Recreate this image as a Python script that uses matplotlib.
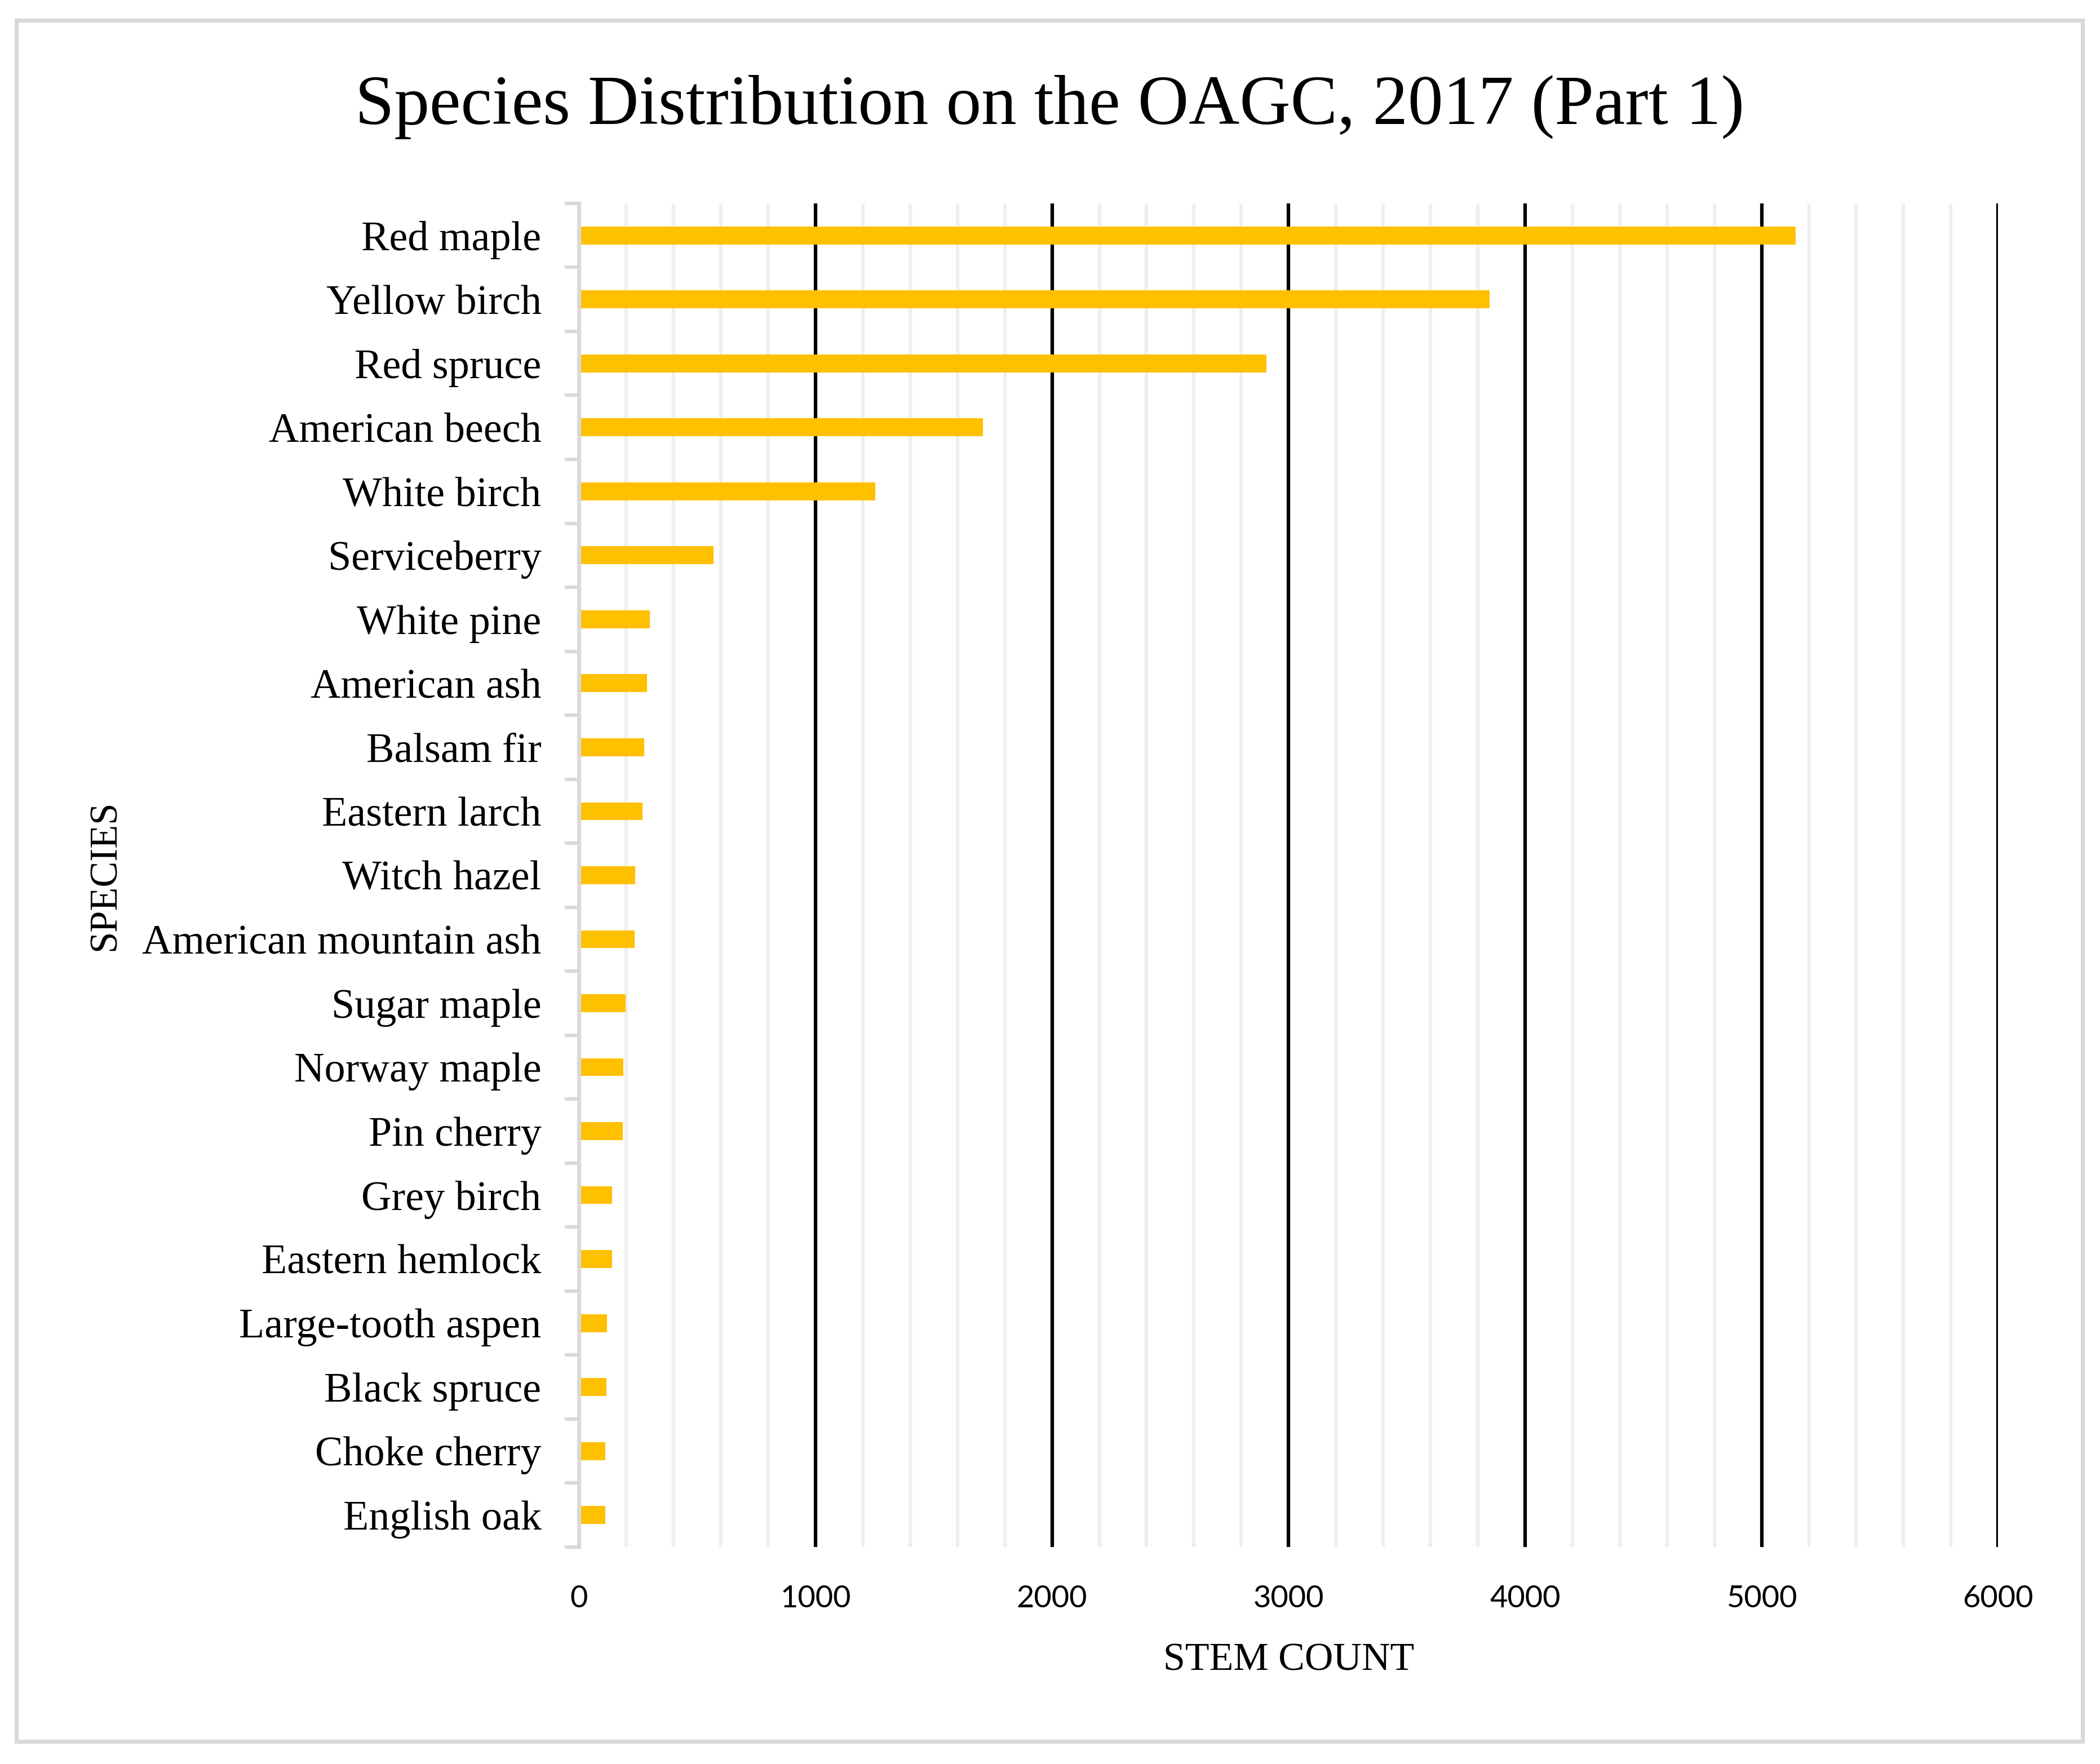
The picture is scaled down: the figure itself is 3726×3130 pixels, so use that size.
import matplotlib.pyplot as plt
from matplotlib.patches import Rectangle
from matplotlib.ticker import MultipleLocator, FixedLocator

species = ["Red maple", "Yellow birch", "Red spruce", "American beech", "White birch",
           "Serviceberry", "White pine", "American ash", "Balsam fir", "Eastern larch",
           "Witch hazel", "American mountain ash", "Sugar maple", "Norway maple",
           "Pin cherry", "Grey birch", "Eastern hemlock", "Large-tooth aspen",
           "Black spruce", "Choke cherry", "English oak"]
stem_count = [5143, 3851, 2906, 1708, 1252, 570, 299, 287, 275, 268,
              237, 235, 197, 187, 185, 140, 140, 119, 116, 112, 112]
x_ticks = [0, 1000, 2000, 3000, 4000, 5000, 6000]

serif = "Liberation Serif"
sans = "Lato"

fig = plt.figure(figsize=(3726 / 300, 3130 / 300), dpi=300)
ax = fig.add_axes([0.2757, 0.123, 0.6758, 0.7617])

n = len(species)
ypos = list(range(n))
ax.barh(ypos, stem_count, height=0.28, color="#FFC000", zorder=2)

ax.set_ylim(n - 0.5, -0.5)
ax.set_xlim(0, 6000)
ax.set_yticks(ypos)
ax.set_yticklabels(species, family=serif, fontsize=17.8)
ax.yaxis.set_minor_locator(FixedLocator([i - 0.5 for i in range(n + 1)]))
ax.tick_params(axis="y", which="major", length=0, pad=16)
ax.tick_params(axis="y", which="minor", length=6, width=1.5, color="#d9d9d9")

ax.set_xticks(x_ticks)
ax.set_xticklabels([str(v) for v in x_ticks], family=sans, fontsize=13)
ax.xaxis.set_minor_locator(MultipleLocator(200))
ax.tick_params(axis="x", which="both", length=0, pad=16)

ax.set_axisbelow(True)
ax.grid(axis="x", which="major", color="black", linewidth=1.5)
ax.grid(axis="x", which="minor", color="#efefef", linewidth=1.5)

for s in ["top", "right", "bottom"]:
    ax.spines[s].set_visible(False)
ax.spines["left"].set_color("#d9d9d9")
ax.spines["left"].set_linewidth(1.7)
ax.spines["left"].set_zorder(3)

ax.set_xlabel("STEM COUNT", family=serif, fontsize=16.8, labelpad=13)
ax.set_ylabel("SPECIES", family=serif, fontsize=16.5, labelpad=8)
fig.text(0.5, 1 - 190 / 3130, "Species Distribution on the OAGC, 2017 (Part 1)",
         family=serif, fontsize=30, ha="center", va="center")

fig.patches.append(Rectangle((29 / 3726, 1 - 3090 / 3130), (3695 - 29) / 3726, (3090 - 36) / 3130,
                             transform=fig.transFigure, fill=False, edgecolor="#d9d9d9",
                             linewidth=1.7))

fig.savefig("out.png", dpi=300, facecolor="white")
